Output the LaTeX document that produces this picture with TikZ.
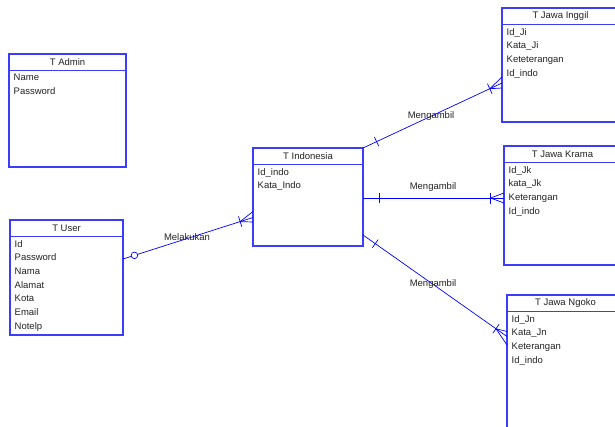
\documentclass[tikz,border=0pt]{standalone}
\usepackage{fontspec}
\setmainfont{Liberation Sans}
\usetikzlibrary{calc}
\definecolor{erblue}{RGB}{60,60,255}
\definecolor{lnblue}{RGB}{0,0,255}
\definecolor{txt}{RGB}{35,35,35}

% entity box: name, x, y, width, height, title, attribute lines
\newcommand\erentity[7]{%
  \node[entity, minimum width=#4pt, minimum height=#5pt] (#1) at (#2,#3) {};
  \draw[hdr] ($(#1.north west)+(0,16.5)$) -- ($(#1.north east)+(0,16.5)$);
  \node[ttl] (#1-title) at ($(#1.north)+(0,8.5)$) {#6};
  \node[attrs] (#1-attrs) at ($(#1.north west)+(4.5,20)$) {#7};
}
% crow's foot (one or many) at point #1 of a line coming from #2
\newcommand\manyend[4]{%
  \coordinate (#1-fork) at ($(#1)!13.5pt!(#2)$);
  \draw[rel] ($(#1)+(0,-#3)$) -- (#1-fork) -- ($(#1)+(0,#4)$);
  \draw[rel] ($(#1-fork)!5.5pt!90:(#1)$) -- ($(#1-fork)!5.5pt!-90:(#1)$);
}
% single bar (exactly one) near point #1 of a line going to #2
\newcommand\oneend[3]{%
  \coordinate (#1-bar) at ($(#1)!#3pt!(#2)$);
  \draw[rel] ($(#1-bar)!5pt!90:(#2)$) -- ($(#1-bar)!5pt!-90:(#2)$);
}

\begin{document}
\begin{tikzpicture}[x=1pt,y=-1pt,
  entity/.style={draw=erblue, line width=1.3pt, anchor=north west, inner sep=0pt, outer sep=0pt},
  hdr/.style={draw=erblue, line width=1.1pt},
  ttl/.style={font=\fontsize{9.5}{11}\selectfont, text=txt, inner sep=0pt},
  attrs/.style={font=\fontsize{9.5}{13.7}\selectfont, text=txt, align=left, anchor=north west, inner sep=0pt},
  rel/.style={draw=lnblue, line width=0.7pt},
  lbl/.style={font=\fontsize{9.5}{11}\selectfont, text=txt, inner sep=1pt},
]
\useasboundingbox (0,0) rectangle (615,426);
\fill[white] (0,0) rectangle (615,426);

\erentity{admin}{9}{54}{117}{113}{T Admin}{Name\\Password}
\erentity{user}{10}{220}{113}{115}{T User}{Id\\Password\\Nama\\Alamat\\Kota\\Email\\Notelp}
\erentity{indo}{253}{148}{110}{98}{T Indonesia}{Id\_indo\\Kata\_Indo}
\erentity{inggil}{502}{8}{117}{114}{T Jawa Inggil}{Id\_Ji\\Kata\_Ji\\Keteterangan\\Id\_indo}
\erentity{krama}{504}{146}{117}{119}{T Jawa Krama}{Id\_Jk\\kata\_Jk\\Keterangan\\Id\_indo}
\erentity{ngoko}{507}{295}{117}{150}{T Jawa Ngoko}{Id\_Jn\\Kata\_Jn\\Keterangan\\Id\_indo}

% T User -- T Indonesia
\coordinate (ua) at ($(user.north east)+(0,39)$);
\coordinate (ia) at ($(indo.north west)+(0,69.5)$);
\draw[rel] (ua) -- (ia);
\manyend{ia}{ua}{6}{4.5}
\coordinate (ua-ring) at ($(ua)!12pt!(ia)$);
\draw[rel, fill=white] (ua-ring) circle (3.3pt);
\node[lbl] (rel-user) at (187,237) {Melakukan};

% T Indonesia -- T Jawa Inggil
\coordinate (ib) at (indo.north east);
\coordinate (jb) at ($(inggil.north west)+(0,75)$);
\draw[rel] (ib) -- (jb);
\oneend{ib}{jb}{15}
\manyend{jb}{ib}{6}{5}
\node[lbl] (rel-inggil) at (431,116) {Mengambil};

% T Indonesia -- T Jawa Krama
\coordinate (ic) at ($(indo.north east)+(0,50)$);
\coordinate (kc) at ($(krama.north west)+(0,52)$);
\draw[rel] (ic) -- (kc);
\oneend{ic}{kc}{16}
\manyend{kc}{ic}{5}{5}
\node[lbl] (rel-krama) at (433,187) {Mengambil};

% T Indonesia -- T Jawa Ngoko
\coordinate (id) at ($(indo.north east)+(0,87)$);
\coordinate (nd) at ($(ngoko.north west)+(0,41.5)$);
\draw[rel] (id) -- (nd);
\oneend{id}{nd}{15}
\manyend{nd}{id}{5}{8.5}
\node[lbl] (rel-ngoko) at (433,284) {Mengambil};
\end{tikzpicture}
\end{document}
